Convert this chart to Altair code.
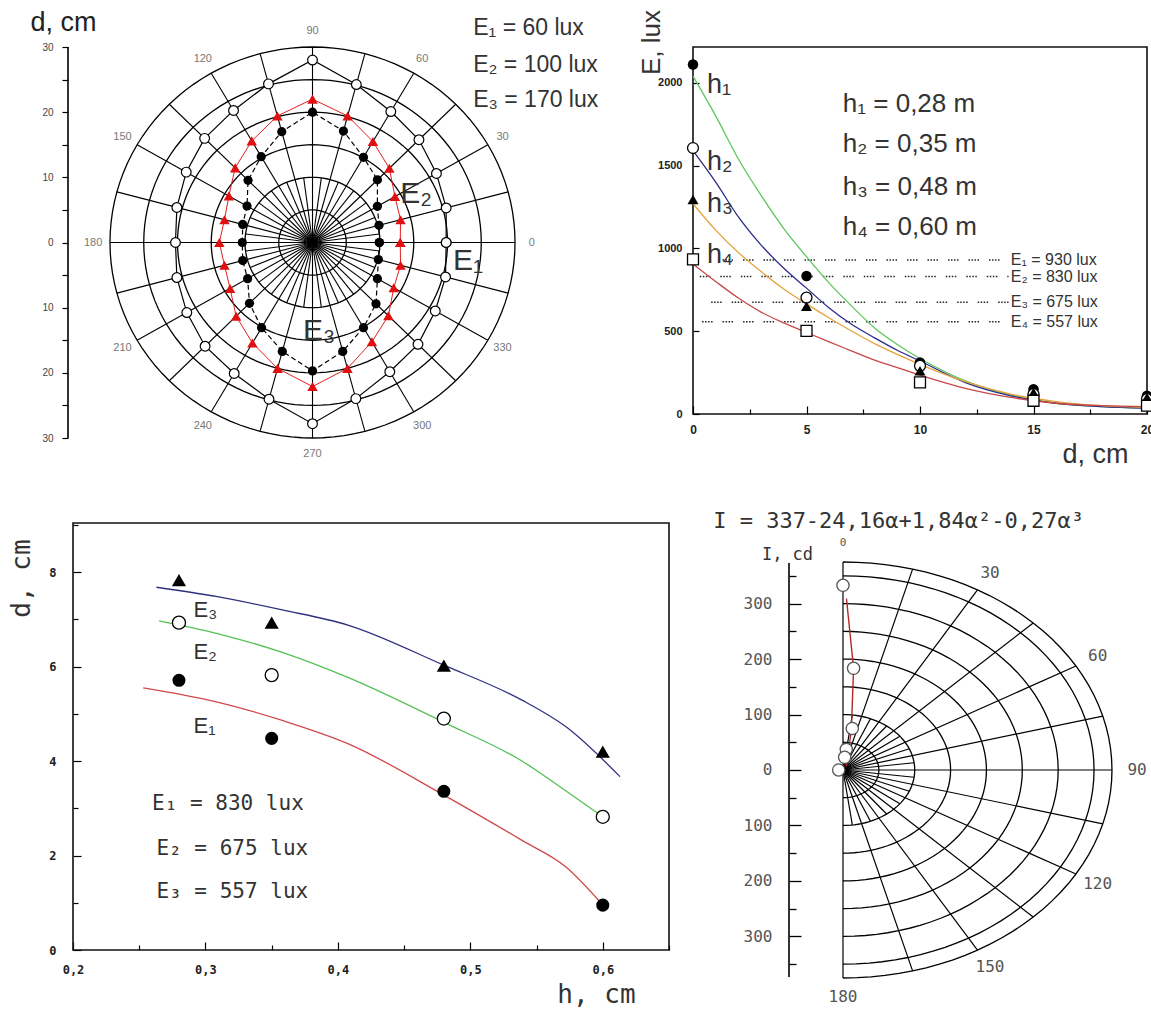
import altair as alt
import pandas as pd

FONT = "Liberation Sans"
MONO = "DejaVu Sans Mono"
INK = "#222222"

# ================= DATA =================
# Panel 1 (top-left): polar plot, radius d (cm) for three illuminance levels
P1_ANGLES = [0, 15, 30, 45, 60, 75, 90, 105, 120, 135, 150, 165,
             180, 195, 210, 225, 240, 255, 270, 285, 300, 315, 330, 345]
P1_E1 = [19.8, 20.5, 21.2, 22.3, 23.2, 25.1, 28.0, 25.2, 23.4, 22.6, 21.6, 20.8,
         20.3, 20.8, 21.5, 22.5, 23.2, 24.9, 27.8, 24.8, 22.9, 22.1, 21.0, 20.4]
P1_E2 = [9.9, 10.2, 11.1, 13.6, 15.1, 17.7, 20.0, 17.6, 15.2, 13.5, 11.2, 10.7,
         10.4, 10.7, 11.1, 13.2, 15.1, 17.3, 19.7, 17.3, 15.1, 13.3, 11.1, 10.1]
P1_E3 = [13.0, 13.5, 14.1, 16.1, 17.9, 20.1, 22.0, 20.1, 18.0, 16.2, 14.3, 13.5,
         13.8, 13.5, 14.1, 16.0, 17.8, 20.0, 22.1, 20.0, 17.6, 15.9, 13.9, 13.5]
P1_RINGS = [5, 10, 15, 20, 25, 30]
P1_ANGLE_LABELS = [0, 30, 60, 90, 120, 150, 180, 210, 240, 270, 300, 330]
P1_D_LABELS = [-30, -20, -10, 0, 10, 20, 30]
P1_D_TICKS = [-30, -25, -20, -15, -10, -5, 0, 5, 10, 15, 20, 25, 30]
P1_LEGEND = ["E₁ = 60 lux", "E₂ = 100 lux", "E₃ = 170 lux"]
P1_CURVE_NAMES = ["E₁", "E₂", "E₃"]

# Panel 2 (top-right): E (lux) vs d (cm)
P2_D = [0, 5, 10, 15, 20]
P2_H1 = [2110, 833, 311, 150, 110]
P2_H2 = [1606, 703, 291, 120, 90]
P2_H3 = [1295, 650, 261, 130, 100]
P2_H4 = [934, 502, 191, 80, 50]
P2_FIT_D = [0, 1, 2, 3, 4, 5, 6, 7, 8, 9, 10, 12, 14, 16, 18, 20]
P2_FIT_H1 = [2040, 1800, 1540, 1320, 1120, 950, 790, 650, 520, 420, 335, 200, 115, 65, 45, 35]
P2_FIT_H2 = [1590, 1400, 1190, 1020, 880, 760, 640, 540, 460, 385, 320, 190, 110, 65, 45, 35]
P2_FIT_H3 = [1270, 1110, 975, 860, 755, 665, 580, 500, 425, 360, 300, 195, 120, 75, 50, 40]
P2_FIT_H4 = [905, 800, 700, 615, 550, 492, 435, 380, 325, 280, 235, 155, 100, 65, 50, 45]
P2_LEVELS = [930, 830, 675, 557]
P2_LEVEL_START = [1.3, 0.3, 0.8, 0.4]
P2_LEVEL_END = [13.9, 13.9, 13.9, 13.9]
P2_LEVEL_TEXT = ["E₁ = 930 lux", "E₂ = 830 lux", "E₃ = 675 lux", "E₄ = 557 lux"]
P2_H_TEXT = ["h₁ = 0,28 m", "h₂ = 0,35 m", "h₃ = 0,48 m", "h₄ = 0,60 m"]
P2_CURVE_NAMES = ["h₁", "h₂", "h₃", "h₄"]

# Panel 3 (bottom-left): d (cm) vs h
P3_H = [0.28, 0.35, 0.48, 0.60]
P3_E1 = [5.71, 4.48, 3.36, 0.95]
P3_E2 = [6.93, 5.82, 4.90, 2.82]
P3_E3 = [7.83, 6.93, 6.02, 4.20]
P3_FIT_H1 = [0.253, 0.309, 0.358, 0.4075, 0.48, 0.539, 0.572, 0.60]
P3_FIT_E1 = [5.55, 5.25, 4.86, 4.37, 3.28, 2.32, 1.76, 0.95]
P3_FIT_H2 = [0.265, 0.309, 0.358, 0.4075, 0.48, 0.539, 0.572, 0.60]
P3_FIT_E2 = [6.97, 6.70, 6.30, 5.77, 4.82, 4.00, 3.37, 2.82]
P3_FIT_H3 = [0.263, 0.309, 0.358, 0.4075, 0.48, 0.539, 0.572, 0.613]
P3_FIT_E3 = [7.68, 7.48, 7.20, 6.88, 6.03, 5.29, 4.73, 3.67]
P3_LEGEND = ["E₁ = 830 lux", "E₂ = 675 lux", "E₃ = 557 lux"]
P3_CURVE_NAMES = ["E₃", "E₂", "E₁"]

# Panel 4 (bottom-right): polar luminous intensity I (cd) vs angle
P4_MARK_A = [0, 4.6, 9.8, 7.0, 5.8, 270]
P4_MARK_I = [333, 184, 76, 37.5, 23, 6]
P4_LINE_A = [0.9, 4.6, 9.2, 13, 38]
P4_LINE_I = [309, 184, 73, 31, 7.6]
P4_RINGS = [50, 100, 150, 200, 250, 300, 350, 375]
P4_ANGLE_LABELS = [0, 30, 60, 90, 120, 150, 180]
P4_I_LABELS = [-300, -200, -100, 0, 100, 200, 300]
P4_I_TICKS = [-350, -300, -250, -200, -150, -100, -50, 0, 50, 100, 150, 200, 250, 300, 350]
P4_FORMULA = "I = 337-24,16α+1,84α²-0,27α³"

# ================= LAYOUT / ANNOTATION PLACEMENT =================
PANEL1_W, PANEL1_H = 472, 391
PANEL2_W, PANEL2_H = 454, 367
PANEL3_W, PANEL3_H = 601, 427
PANEL4_W, PANEL4_H = 458, 487
P1X, P1Y = [-36.22, 33.70], [-30, 30]
P2X, P2Y = [0, 20], [0, 2216]
P3X, P3Y = [0.19622, 0.65], [0, 9.04]
P3_FRAME = [0.2, 0.65, 0, 9.04]
P4X, P4Y = [-209.1, 429.4], [-432.7, 445.3]

P1_LEGEND_X, P1_LEGEND_Y = 23.8, [31.8, 26.2, 20.8]
P1_CURVE_X, P1_CURVE_Y = [20.8, 13.0, -1.4], [-4.2, 6.1, -15.0]
P2_LEVEL_TEXT_X = 14.0
P2_H_TEXT_X, P2_H_TEXT_Y = 6.6, [1824, 1582, 1322, 1081]
P2_CURVE_X, P2_CURVE_Y = 0.62, [1938, 1473, 1220, 912]
P3_LEGEND_X, P3_LEGEND_Y = [0.2597, 0.263, 0.263], [2.96, 2.01, 1.10]
P3_CURVE_X, P3_CURVE_Y = 0.291, [7.06, 6.16, 4.59]
P4_FORMULA_X, P4_FORMULA_Y = -181, 436
P4_AXIS_EXT = 373


def sc(dom):
    return alt.Scale(domain=dom, nice=False, zero=False)


PX1 = "datum.r * cos(datum.a * PI / 180)"
PY1 = "datum.r * sin(datum.a * PI / 180)"
PX4 = "datum.r * sin(datum.a * PI / 180)"
PY4 = "datum.r * cos(datum.a * PI / 180)"


def closed_df(angles, radii):
    rows = [{"i": i, "a": a, "r": r} for i, (a, r) in enumerate(zip(angles, radii))]
    rows.append({"i": len(rows), "a": angles[0], "r": radii[0]})
    return pd.DataFrame(rows)


# ================= PANEL 1 =================
def x1(f):
    return alt.X(f, type="quantitative", scale=sc(P1X), axis=None)


def y1(f, axis=None):
    return alt.Y(f, type="quantitative", scale=sc(P1Y), axis=axis)


P1_TICK_LEN = 6
p1_ylab = alt.Axis(
    orient="left", values=P1_D_LABELS, ticks=False, domain=False,
    labelExpr="format(abs(datum.value), 'd')",
    labelFont=FONT, labelFontSize=10, labelColor="#444", labelPadding=15, labelFlush=False,
    title="d, cm", titleFont=FONT, titleFontSize=27, titleFontWeight="normal",
    titleColor=INK, titleAngle=0, titleAlign="center", titleBaseline="alphabetic",
    titleX=-5, titleY=-17, grid=False)
p1_ytick = alt.Axis(orient="right", offset=-(PANEL1_W + P1_TICK_LEN), values=P1_D_TICKS,
                    labels=False, domain=False, tickColor="#000", tickWidth=1.2,
                    tickSize=P1_TICK_LEN, title=None, grid=False)

ring_df = pd.DataFrame([{"r": r, "a": a} for r in P1_RINGS for a in range(0, 361, 3)])
p1_rings = alt.Chart(ring_df).transform_calculate(px=PX1, py=PY1).mark_line(
    color="#000", strokeWidth=1.3).encode(
    x=x1("px"), y=y1("py", p1_ytick), detail="r:N", order="a:Q")

spoke_rows = [{"a": a, "r1": 30} for a in range(0, 360, 15)]
spoke_rows += [{"a": a + 7.5, "r1": 10} for a in range(0, 360, 15)]
p1_spokes = alt.Chart(pd.DataFrame(spoke_rows)).transform_calculate(
    z="0", ex="datum.r1 * cos(datum.a * PI / 180)", ey="datum.r1 * sin(datum.a * PI / 180)"
).mark_rule(color="#000", strokeWidth=1.1).encode(
    x=x1("z"), y=y1("z", p1_ylab), x2="ex:Q", y2="ey:Q")

p1_axisline = alt.Chart(pd.DataFrame({"lo": [P1Y[0]], "hi": [P1Y[1]]})).mark_rule(
    color="#000", strokeWidth=1.6).encode(x=alt.value(0), y=y1("lo"), y2="hi:Q")


def p1_series(radii, line_kw, point_kw):
    base = alt.Chart(closed_df(P1_ANGLES, radii)).transform_calculate(px=PX1, py=PY1)
    line = base.mark_line(**line_kw).encode(x=x1("px"), y=y1("py"), order="i:Q")
    pts = base.mark_point(**point_kw).encode(x=x1("px"), y=y1("py"))
    return [line, pts]


p1_e1 = p1_series(P1_E1, dict(color="#000", strokeWidth=1.2),
                  dict(shape="circle", filled=True, fill="white", stroke="#000",
                       strokeWidth=1.2, size=95, opacity=1))
p1_e2 = p1_series(P1_E2, dict(color="#000", strokeWidth=1.2, strokeDash=[5, 3]),
                  dict(shape="circle", filled=True, color="#000", size=85, opacity=1))
p1_e3 = p1_series(P1_E3, dict(color="#e02020", strokeWidth=1.0),
                  dict(shape="triangle-up", filled=True, color="#e01010", size=110, opacity=1))

p1_alab = alt.Chart(pd.DataFrame({"a": P1_ANGLE_LABELS})).transform_calculate(
    px="32.5 * cos(datum.a * PI / 180)", py="32.5 * sin(datum.a * PI / 180)",
    t="'' + datum.a").mark_text(font=FONT, fontSize=11, color="#777").encode(
    x=x1("px"), y=y1("py"), text="t:N")

p1_leg = alt.Chart(pd.DataFrame({"x": [P1_LEGEND_X] * 3, "y": P1_LEGEND_Y, "t": P1_LEGEND})).mark_text(
    font=FONT, fontSize=23, color="#333", align="left", baseline="alphabetic").encode(
    x=x1("x"), y=y1("y"), text="t:N")
p1_names = alt.Chart(pd.DataFrame({"x": P1_CURVE_X, "y": P1_CURVE_Y, "t": P1_CURVE_NAMES})).mark_text(
    font=FONT, fontSize=30, color="#333", align="left", baseline="alphabetic").encode(
    x=x1("x"), y=y1("y"), text="t:N")

p1 = alt.layer(p1_rings, p1_spokes, p1_axisline, *p1_e1, *p1_e2, *p1_e3,
               p1_alab, p1_leg, p1_names).properties(width=PANEL1_W, height=PANEL1_H)


# ================= PANEL 2 =================
def x2(f, axis=None):
    return alt.X(f, type="quantitative", scale=sc(P2X), axis=axis)


def y2(f, axis=None):
    return alt.Y(f, type="quantitative", scale=sc(P2Y), axis=axis)


p2_xlab = alt.Axis(orient="bottom", values=[0, 5, 10, 15, 20], ticks=False, domain=False,
                   format="d", labelFlush=False,
                   labelFont=FONT, labelFontSize=12, labelFontWeight="bold", labelColor=INK,
                   labelPadding=10, title="d, cm", titleFont=FONT, titleFontSize=27,
                   titleFontWeight="normal", titleColor="#333", titleAngle=0, titleAlign="center",
                   titleBaseline="alphabetic", titleX=402, titleY=48, grid=False)
p2_xtick = alt.Axis(orient="top", offset=-PANEL2_H, values=[v * 2.5 for v in range(9)], labels=False,
                    domain=False, tickColor="#000", tickWidth=1.2,
                    tickSize={"condition": {"test": "datum.value % 5 === 0", "value": 8}, "value": 5},
                    title=None, grid=False)
p2_ylab = alt.Axis(orient="left", values=[0, 500, 1000, 1500, 2000], ticks=False, domain=False,
                   format="d", labelFlush=False,
                   labelFont=FONT, labelFontSize=11, labelFontWeight="bold", labelColor=INK,
                   labelPadding=11, title="E, lux", titleFont=FONT, titleFontSize=26,
                   titleFontWeight="normal", titleColor="#333", titleAngle=270, titleAlign="center",
                   titleBaseline="middle", titleX=-42, titleY=-5, grid=False)
p2_ytick = alt.Axis(orient="right", offset=-PANEL2_W, values=[0, 500, 1000, 1500, 2000], labels=False,
                    domain=False, tickColor="#000", tickWidth=1.2, tickSize=6, title=None, grid=False)

lev_df = pd.DataFrame({"E": P2_LEVELS, "s": P2_LEVEL_START, "e": P2_LEVEL_END,
                       "t": P2_LEVEL_TEXT, "x": [P2_LEVEL_TEXT_X] * 4})
p2_levels = alt.Chart(lev_df).mark_rule(
    color="#222", strokeWidth=1.6, strokeDash=[1.5, 1.5, 1.5, 1.5, 1.5, 1.5, 1.5, 10]).encode(
    x=x2("s"), x2="e:Q", y=y2("E"))
p2_level_txt = alt.Chart(lev_df).mark_text(
    font=FONT, fontSize=16, color="#333", align="left", baseline="middle").encode(
    x=x2("x"), y=y2("E"), text="t:N")

fit_colors = ["#5cc85c", "#2b2b8c", "#e6a23a", "#c84848"]
fit_lists = [P2_FIT_H1, P2_FIT_H2, P2_FIT_H3, P2_FIT_H4]
p2_fits = []
for k, (vals, col) in enumerate(zip(fit_lists, fit_colors)):
    df = pd.DataFrame({"d": P2_FIT_D, "E": vals})
    if k == 0:
        enc = dict(x=x2("d", p2_xtick), y=y2("E", p2_ytick))
    else:
        enc = dict(x=x2("d"), y=y2("E"))
    p2_fits.append(alt.Chart(df).mark_line(color=col, strokeWidth=1.3,
                                           interpolate="monotone").encode(**enc))

pt_styles = [
    dict(shape="circle", filled=True, color="#000", size=110, opacity=1),
    dict(shape="circle", filled=True, fill="white", stroke="#000", strokeWidth=1.3, size=120, opacity=1),
    dict(shape="triangle-up", filled=True, color="#000", size=120, opacity=1),
    dict(shape="square", filled=True, fill="white", stroke="#000", strokeWidth=1.3, size=120, opacity=1),
]
p2_pts = []
for k, (vals, sty) in enumerate(zip([P2_H1, P2_H2, P2_H3, P2_H4], pt_styles)):
    df = pd.DataFrame({"d": P2_D, "E": vals})
    if k == 0:
        enc = dict(x=x2("d", p2_xlab), y=y2("E", p2_ylab))
    else:
        enc = dict(x=x2("d"), y=y2("E"))
    p2_pts.append(alt.Chart(df).mark_point(**sty).encode(**enc))

p2_htxt = alt.Chart(pd.DataFrame({"x": [P2_H_TEXT_X] * 4, "y": P2_H_TEXT_Y, "t": P2_H_TEXT})).mark_text(
    font=FONT, fontSize=26, color="#333", align="left", baseline="alphabetic").encode(
    x=x2("x"), y=y2("y"), text="t:N")
p2_names = alt.Chart(pd.DataFrame({"x": [P2_CURVE_X] * 4, "y": P2_CURVE_Y, "t": P2_CURVE_NAMES})).mark_text(
    font=FONT, fontSize=27, color="#333", align="left", baseline="alphabetic").encode(
    x=x2("x"), y=y2("y"), text="t:N")

p2 = alt.layer(p2_levels, *p2_fits, *p2_pts, p2_level_txt, p2_htxt, p2_names).properties(
    width=PANEL2_W, height=PANEL2_H, view=alt.ViewBackground(stroke="#111", strokeWidth=1.6))


# ================= PANEL 3 =================
def x3(f, axis=None):
    return alt.X(f, type="quantitative", scale=sc(P3X), axis=axis)


def y3(f, axis=None):
    return alt.Y(f, type="quantitative", scale=sc(P3Y), axis=axis)


P3_SHIFT = 5  # plot area starts 5 px left of the frame
p3_xlab = alt.Axis(orient="bottom", values=[0.2, 0.3, 0.4, 0.5, 0.6], ticks=False, domain=False,
                   labelExpr="replace(format(datum.value, '.1f'), '.', ',')", labelFlush=False,
                   labelFont=MONO, labelFontSize=12, labelFontWeight="bold", labelColor=INK,
                   labelPadding=14, title="h, cm", titleFont=MONO, titleFontSize=26,
                   titleFontWeight="normal", titleColor="#333", titleAngle=0, titleAlign="center",
                   titleBaseline="alphabetic", titleX=528, titleY=52, grid=False)
p3_xtick = alt.Axis(orient="top", offset=-PANEL3_H, values=[0.2 + 0.05 * k for k in range(10)],
                    labels=False, domain=False, tickColor="#000", tickWidth=1.2,
                    tickSize={"condition": {"test": "abs(datum.value * 10 - round(datum.value * 10)) < 0.001",
                                            "value": 8}, "value": 5},
                    title=None, grid=False)
p3_ylab = alt.Axis(orient="left", offset=-P3_SHIFT, values=[0, 2, 4, 6, 8], ticks=False, domain=False,
                   format="d", labelFlush=False,
                   labelFont=MONO, labelFontSize=12, labelFontWeight="bold", labelColor=INK,
                   labelPadding=17, title="d, cm", titleFont=MONO, titleFontSize=26,
                   titleFontWeight="normal", titleColor="#333", titleAngle=270, titleAlign="center",
                   titleBaseline="middle", titleX=-52, titleY=55, grid=False)
p3_ytick = alt.Axis(orient="right", offset=-(PANEL3_W - P3_SHIFT), values=list(range(0, 10)),
                    labels=False, domain=False, tickColor="#000", tickWidth=1.2,
                    tickSize={"condition": {"test": "datum.value % 2 === 0", "value": 8}, "value": 5},
                    title=None, grid=False)

p3_frame = alt.Chart(pd.DataFrame({"x0": [P3_FRAME[0]], "x1": [P3_FRAME[1]],
                                   "y0": [P3_FRAME[2]], "y1": [P3_FRAME[3]]})).mark_rect(
    fill="transparent", stroke="#111", strokeWidth=1.6).encode(
    x=x3("x0", p3_xtick), x2="x1:Q", y=y3("y0", p3_ytick), y2="y1:Q")

p3_fit_specs = [(P3_FIT_H3, P3_FIT_E3, "#303080"), (P3_FIT_H2, P3_FIT_E2, "#55c055"),
                (P3_FIT_H1, P3_FIT_E1, "#d04848")]
p3_fits = []
for hs, ds, col in p3_fit_specs:
    df = pd.DataFrame({"hh": hs, "dd": ds})
    p3_fits.append(alt.Chart(df).mark_line(color=col, strokeWidth=1.3,
                                           interpolate="monotone").encode(x=x3("hh"), y=y3("dd")))

p3_pt_specs = [
    (P3_E3, dict(shape="triangle-up", filled=True, color="#000", size=200, opacity=1)),
    (P3_E2, dict(shape="circle", filled=True, fill="white", stroke="#000", strokeWidth=1.3,
                 size=170, opacity=1)),
    (P3_E1, dict(shape="circle", filled=True, color="#000", size=170, opacity=1)),
]
p3_pts = []
for vals, sty in p3_pt_specs:
    df = pd.DataFrame({"hp": P3_H, "dp": vals})
    p3_pts.append(alt.Chart(df).mark_point(**sty).encode(x=x3("hp"), y=y3("dp")))

p3_leg = alt.Chart(pd.DataFrame({"x": P3_LEGEND_X, "y": P3_LEGEND_Y, "t": P3_LEGEND})).mark_text(
    font=MONO, fontSize=21, color="#333", align="left", baseline="alphabetic").encode(
    x=x3("x", p3_xlab), y=y3("y", p3_ylab), text="t:N")
p3_names = alt.Chart(pd.DataFrame({"x": [P3_CURVE_X] * 3, "y": P3_CURVE_Y, "t": P3_CURVE_NAMES})).mark_text(
    font=FONT, fontSize=22, color="#333", align="left", baseline="alphabetic").encode(
    x=x3("x"), y=y3("y"), text="t:N")

p3 = alt.layer(p3_frame, *p3_fits, *p3_pts, p3_leg, p3_names).properties(
    width=PANEL3_W, height=PANEL3_H)


# ================= PANEL 4 =================
def x4(f):
    return alt.X(f, type="quantitative", scale=sc(P4X), axis=None)


def y4(f, axis=None):
    return alt.Y(f, type="quantitative", scale=sc(P4Y), axis=axis)


AXIS4_PX = 96
p4_ylab = alt.Axis(orient="left", offset=-AXIS4_PX, values=P4_I_LABELS, ticks=False, domain=False,
                   labelExpr="format(abs(datum.value), 'd')", labelFont=MONO, labelFontSize=16,
                   labelColor="#555", labelPadding=17, labelFlush=False, title="I, cd", titleFont=MONO,
                   titleFontSize=17, titleFontWeight="normal", titleColor="#333", titleAngle=0,
                   titleAlign="center", titleBaseline="alphabetic", titleX=-2, titleY=36, grid=False)
p4_ytick = alt.Axis(orient="right", offset=AXIS4_PX - PANEL4_W, values=P4_I_TICKS, labels=False,
                    domain=False, tickColor="#000", tickWidth=1.3,
                    tickSize={"condition": {"test": "datum.value % 100 === 0", "value": 12}, "value": 7},
                    title=None, grid=False)

ring4_df = pd.DataFrame([{"r": r, "a": a} for r in P4_RINGS for a in range(0, 181, 3)])
p4_rings = alt.Chart(ring4_df).transform_calculate(px=PX4, py=PY4).mark_line(
    color="#000", strokeWidth=1.3).encode(
    x=x4("px"), y=y4("py", p4_ytick), detail="r:N", order="a:Q")

spoke4 = [{"a": a, "r1": 375} for a in range(0, 181, 15)]
spoke4 += [{"a": a + 7.5, "r1": 100} for a in range(0, 180, 15)]
p4_spokes = alt.Chart(pd.DataFrame(spoke4)).transform_calculate(
    z="0", ex="datum.r1 * sin(datum.a * PI / 180)", ey="datum.r1 * cos(datum.a * PI / 180)"
).mark_rule(color="#000", strokeWidth=1.2).encode(
    x=x4("z"), y=y4("z", p4_ylab), x2="ex:Q", y2="ey:Q")

p4_axisline = alt.Chart(pd.DataFrame({"lo": [-P4_AXIS_EXT], "hi": [P4_AXIS_EXT]})).mark_rule(
    color="#000", strokeWidth=1.6).encode(x=alt.value(AXIS4_PX), y=y4("lo"), y2="hi:Q")

line4_df = pd.DataFrame({"i": list(range(len(P4_LINE_A))), "a": P4_LINE_A, "r": P4_LINE_I})
p4_line = alt.Chart(line4_df).transform_calculate(px=PX4, py=PY4).mark_line(
    color="#b02a2a", strokeWidth=1.4).encode(x=x4("px"), y=y4("py"), order="i:Q")
mark4_df = pd.DataFrame({"a": P4_MARK_A, "r": P4_MARK_I})
p4_marks = alt.Chart(mark4_df).transform_calculate(px=PX4, py=PY4).mark_point(
    shape="circle", filled=True, fill="white", stroke="#555", strokeWidth=1.3, size=150,
    opacity=1).encode(x=x4("px"), y=y4("py"))

p4_alab = alt.Chart(pd.DataFrame({"a": P4_ANGLE_LABELS})).transform_calculate(
    px="410 * sin(datum.a * PI / 180)", py="410 * cos(datum.a * PI / 180)",
    t="'' + datum.a").mark_text(font=MONO, color="#555").encode(
    x=x4("px"), y=y4("py"), text="t:N",
    size=alt.condition("datum.a == 0", alt.value(11), alt.value(16)))

p4_formula = alt.Chart(pd.DataFrame({"x": [P4_FORMULA_X], "y": [P4_FORMULA_Y], "t": [P4_FORMULA]})).mark_text(
    font=MONO, fontSize=22, color="#333", align="left", baseline="alphabetic").encode(
    x=x4("x"), y=y4("y"), text="t:N")

p4 = alt.layer(p4_rings, p4_spokes, p4_axisline, p4_line, p4_marks, p4_alab, p4_formula).properties(
    width=PANEL4_W, height=PANEL4_H)

# ================= ASSEMBLY =================
LEFT, TOP = 68, 47
chart = alt.concat(
    p1, p2, p3, p4, columns=2, spacing={"row": 85, "column": 24}, align="each", bounds="flush"
).properties(
    autosize=alt.AutoSizeParams(type="none"),
    padding={"left": LEFT, "top": TOP, "right": 1151 - LEFT, "bottom": 1010 - TOP},
    background="white",
).configure_view(stroke="transparent").configure_axis(grid=False)

chart.save("out.html", embed_options={"renderer": "svg", "actions": False})
